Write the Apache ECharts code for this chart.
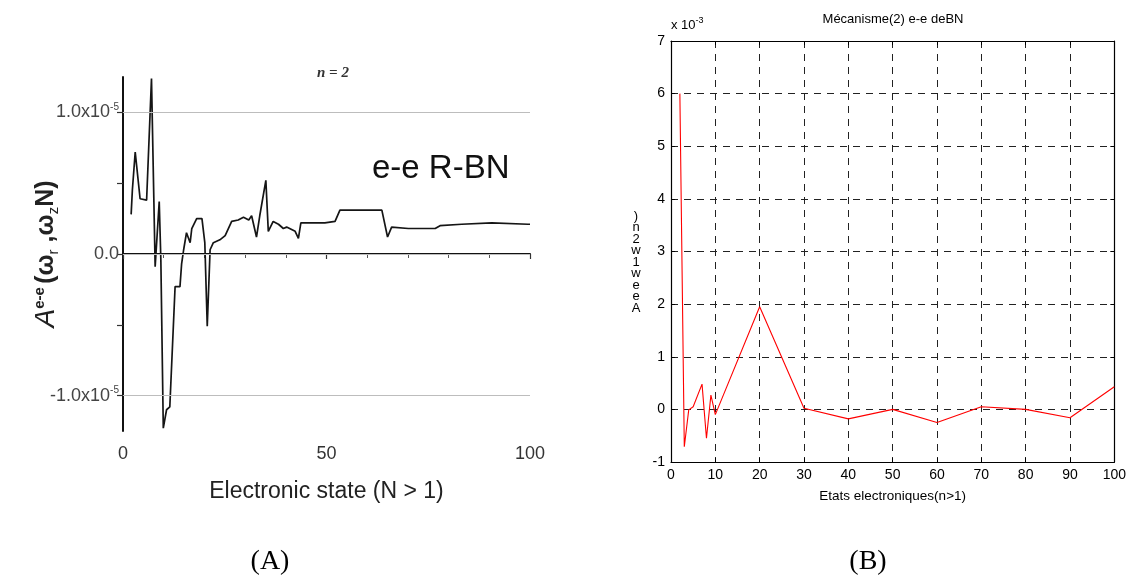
<!DOCTYPE html>
<html>
<head>
<meta charset="utf-8">
<title>A e-e (ω, N)</title>
<script src="https://cdn.jsdelivr.net/npm/echarts@6/dist/echarts.min.js"></script>
<style>
  html, body { margin: 0; padding: 0; background: #fff; }
  #wrap { position: relative; width: 1129px; height: 584px; }
  .pane { position: absolute; left: 0; top: 0; width: 1129px; height: 584px; }
  #paneA { filter: blur(0.45px); }
</style>
</head>
<body>
<div id="wrap">
  <div id="paneA" class="pane"></div>
  <div id="paneB" class="pane"></div>
</div>
<script>
// ---- Panel (A): e-e R-BN, values in units of 1e-5 ----
const stateA = [2.0, 2.3, 3.0, 4.2, 5.8, 7.0, 7.9, 8.9, 9.3, 9.9, 10.7, 11.5, 12.8, 14.0, 14.4, 14.9,
  15.6, 16.5, 16.9, 18.1, 19.4, 20.1, 20.7, 21.4, 22.2, 23.8, 25.1, 26.7, 28.3, 29.6, 30.9, 31.6,
  32.8, 33.6, 35.1, 35.7, 36.9, 38.2, 39.4, 40.2, 42.3, 43.1, 43.7, 44.6, 46.8, 49.6, 52.1, 53.3,
  56.2, 59.5, 63.6, 65.0, 66.0, 70.1, 76.7, 77.9, 83.2, 90.6, 99.5, 100];
const ampA = [0.28, 0.45, 0.72, 0.39, 0.38, 1.24, -0.09, 0.37, -0.04, -1.23, -1.10, -1.08, -0.23, -0.23, -0.07, 0.03,
  0.15, 0.08, 0.18, 0.25, 0.25, 0.08, -0.51, 0.03, 0.08, 0.10, 0.13, 0.23, 0.24, 0.26, 0.24, 0.27,
  0.12, 0.27, 0.52, 0.16, 0.23, 0.21, 0.18, 0.19, 0.16, 0.11, 0.22, 0.22, 0.22, 0.22, 0.23, 0.31,
  0.31, 0.31, 0.31, 0.12, 0.19, 0.18, 0.18, 0.20, 0.21, 0.22, 0.21, 0.21];
const yLabelsA = [-1, 0, 1];
const yTicksA = [-1, -0.5, 0, 0.5, 1];
const xTicksA = [0, 50, 100];

// ---- Panel (B): Mécanisme(2) e-e deBN, values in units of 1e-3 ----
const stateB = [2, 3, 4, 5, 7, 8, 9, 10, 20, 30, 40, 50, 60, 70, 80, 90, 100];
const ampB = [6.0, -0.71, -0.01, 0.05, 0.48, -0.55, 0.27, -0.10, 1.95, 0.02, -0.18, 0.0, -0.25, 0.05, 0.0, -0.16, 0.43];
const xTicksB = [0, 10, 20, 30, 40, 50, 60, 70, 80, 90, 100];
const yTicksB = [-1, 0, 1, 2, 3, 4, 5, 6, 7];

const SANS = "'Liberation Sans', Arial, Helvetica, sans-serif";
const SERIF = "'Liberation Serif', 'Times New Roman', serif";

function pairs(xs, ys) { return xs.map((x, i) => [x, ys[i]]); }

// ---------- chart A ----------
const chartA = echarts.init(document.getElementById('paneA'), null, { renderer: 'canvas' });
chartA.setOption({
  animation: false,
  grid: { left: 123, right: 599, top: 77, bottom: 153 },
  xAxis: {
    type: 'value', min: xTicksA[0], max: xTicksA[xTicksA.length - 1], interval: 50,
    axisLine: { lineStyle: { color: '#111', width: 2 } },
    axisTick: { show: true, length: 5, lineStyle: { color: '#333', width: 1.2 } },
    minorTick: { show: true, splitNumber: 5, length: 4, lineStyle: { color: '#555' } },
    splitLine: { show: false },
    axisLabel: { fontFamily: SANS, fontSize: 18, color: '#333', margin: 14 },
    name: 'Electronic state (N > 1)', nameLocation: 'middle', nameGap: 49,
    nameTextStyle: { fontFamily: SANS, fontSize: 23, color: '#222' }
  },
  yAxis: {
    type: 'value', min: -1.25, max: 1.25,
    axisLine: { show: true, lineStyle: { color: '#111', width: 2 } },
    axisTick: { show: true, customValues: yTicksA, length: 6, lineStyle: { color: '#333', width: 1.2 } },
    splitLine: { show: false },
    axisLabel: {
      customValues: yLabelsA, margin: 4, color: '#444', fontFamily: SANS, fontSize: 18,
      formatter: v => v === 0 ? '{m|0.0}' : '{m|' + (v < 0 ? '-' : '') + '1.0x10}{s|-5}',
      rich: {
        m: { fontFamily: SANS, fontSize: 18, color: '#444' },
        s: { fontFamily: SANS, fontSize: 10, color: '#444', verticalAlign: 'top', padding: [0, 0, 10, 0] }
      }
    },
    name: '{a|A}{s|e-e} {b|(ω}{u|r}{b| ,ω}{u|z}{b|N)}',
    nameLocation: 'middle', nameRotate: 90, nameGap: 62, nameMoveOverlap: false,
    nameTextStyle: {
      rich: {
        a: { fontFamily: SANS, fontSize: 28, color: '#222', fontStyle: 'italic' },
        b: { fontFamily: SANS, fontSize: 25, color: '#222', fontWeight: 'bold' },
        s: { fontFamily: SANS, fontSize: 15, color: '#222', fontWeight: 'bold', verticalAlign: 'top', padding: [0, 0, 14, 0] },
        u: { fontFamily: SANS, fontSize: 15, color: '#222', verticalAlign: 'bottom', padding: [10, 0, 0, 0] }
      }
    }
  },
  series: [{
    type: 'line', data: pairs(stateA, ampA), showSymbol: false, symbol: 'none',
    lineStyle: { color: '#151515', width: 1.7 },
    markLine: {
      silent: true, symbol: 'none', label: { show: false },
      lineStyle: { color: '#bdbdbd', width: 1, type: 'solid' },
      data: yLabelsA.map(v => ({ yAxis: v }))
    },
    z: 3
  }],
  graphic: [
    { type: 'text', left: 317, top: 66, style: { text: 'n = 2', font: "italic bold 15px " + SERIF, fill: '#333' } },
    { type: 'text', left: 372, top: 152, style: { text: 'e-e R-BN', font: "33px " + SANS, fill: '#111' } }
  ]
});

// ---------- chart B ----------
const chartB = echarts.init(document.getElementById('paneB'), null, { renderer: 'canvas' });
const gridDash = { color: '#222', width: 1, type: [7, 6] };
const frameAxisX = (pos, withLabels) => ({
  type: 'value', position: pos, min: 0, max: 100, interval: 10,
  axisLine: { show: true, onZero: false, lineStyle: { color: '#000', width: 1.2 } },
  axisTick: { show: true, inside: true, length: 4, lineStyle: { color: '#000' } },
  axisLabel: withLabels ? { fontFamily: SANS, fontSize: 14, color: '#000', margin: 6 } : { show: false },
  splitLine: withLabels ? { show: true, lineStyle: gridDash } : { show: false }
});
const frameAxisY = (pos, withLabels) => ({
  type: 'value', position: pos, min: -1, max: 7, interval: 1,
  axisLine: { show: true, onZero: false, lineStyle: { color: '#000', width: 1.2 } },
  axisTick: { show: true, inside: true, length: 4, lineStyle: { color: '#000' } },
  axisLabel: withLabels ? { fontFamily: SANS, fontSize: 14, color: '#000', margin: 6 } : { show: false },
  splitLine: withLabels ? { show: true, lineStyle: gridDash } : { show: false }
});
const xb0 = frameAxisX('bottom', true);
xb0.name = 'Etats electroniques(n>1)';
xb0.nameLocation = 'middle';
xb0.nameGap = 27;
xb0.nameTextStyle = { fontFamily: SANS, fontSize: 13.5, color: '#000' };

chartB.setOption({
  animation: false,
  grid: { left: 671, right: 12, top: 41, bottom: 122 },
  xAxis: [xb0, frameAxisX('top', false)],
  yAxis: [frameAxisY('left', true), frameAxisY('right', false)],
  series: [{
    type: 'line', xAxisIndex: 0, yAxisIndex: 0, data: pairs(stateB, ampB),
    showSymbol: false, symbol: 'none',
    lineStyle: { color: '#ff0000', width: 1.1 }, z: 3
  }],
  graphic: [
    { type: 'text', x: 893, y: 19, style: { text: 'Mécanisme(2) e-e deBN', font: "13px " + SANS, fill: '#000', align: 'center', verticalAlign: 'middle' } },
    { type: 'text', x: 671, y: 25, style: {
        text: '{m|x 10}{s|-3}', verticalAlign: 'middle',
        rich: { m: { font: "13px " + SANS, fill: '#000' }, s: { font: "9px " + SANS, fill: '#000', verticalAlign: 'top', padding: [0, 0, 8, 0] } }
      } },
    { type: 'text', x: 636, y: 262, style: {
        text: [')', 'n', '2', 'w', '1', 'w', 'e', 'e', 'A'].join('\n'),
        font: "13px " + SANS, fill: '#000', align: 'center', verticalAlign: 'middle', lineHeight: 11.5
      } },
    { type: 'text', x: 270, y: 562, style: { text: '(A)', font: "28px " + SERIF, fill: '#000', align: 'center', verticalAlign: 'middle' } },
    { type: 'text', x: 868, y: 562, style: { text: '(B)', font: "28px " + SERIF, fill: '#000', align: 'center', verticalAlign: 'middle' } }
  ]
});
</script>
</body>
</html>
